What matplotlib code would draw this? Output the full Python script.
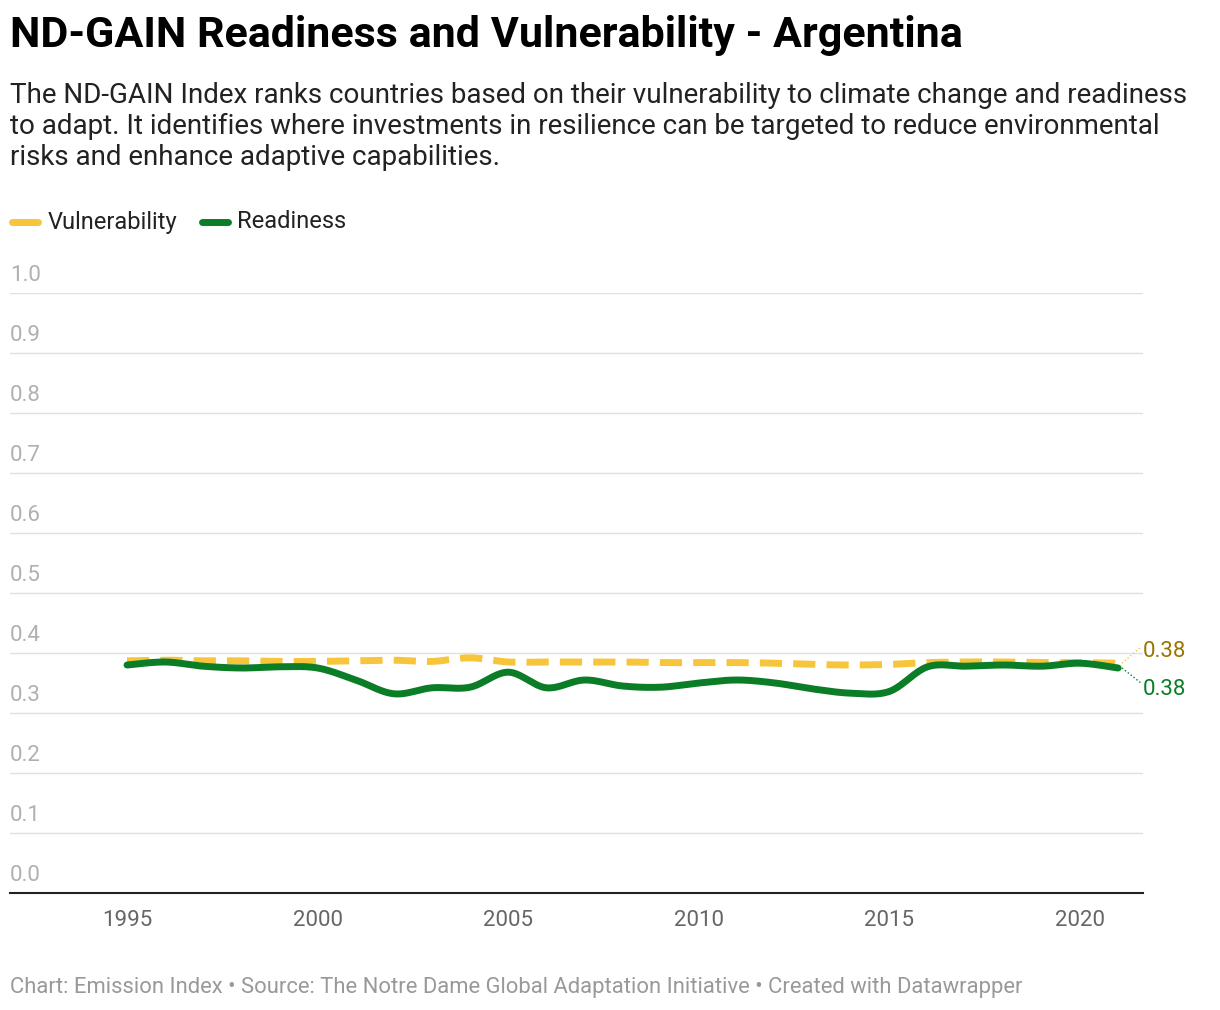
import numpy as np
import matplotlib.pyplot as plt

years = np.arange(1995, 2022)
readiness = [0.380, 0.385, 0.378, 0.375, 0.377, 0.375, 0.355, 0.332, 0.342, 0.343,
             0.368, 0.342, 0.355, 0.345, 0.343, 0.350, 0.355, 0.350, 0.340, 0.333,
             0.336, 0.377, 0.378, 0.380, 0.378, 0.383, 0.375]
vulnerability = [0.387, 0.388, 0.387, 0.387, 0.386, 0.386, 0.387, 0.388, 0.386, 0.392,
                 0.385, 0.385, 0.385, 0.385, 0.384, 0.384, 0.384, 0.383, 0.381, 0.380,
                 0.381, 0.384, 0.385, 0.385, 0.384, 0.384, 0.383]

GREEN = '#0a7d26'
GOLD = '#f7c53c'


def smooth(x, y, n=20):
    # Catmull-Rom rendering of the line (display only)
    x = np.asarray(x, float); y = np.asarray(y, float)
    px = np.r_[x[0], x, x[-1]]; py = np.r_[y[0], y, y[-1]]
    xs, ys = [], []
    t = np.linspace(0, 1, n, endpoint=False)
    for i in range(1, len(px) - 2):
        for p, out in ((px, xs), (py, ys)):
            p0, p1, p2, p3 = p[i - 1], p[i], p[i + 1], p[i + 2]
            out.extend(0.5 * (2 * p1 + (-p0 + p2) * t + (2 * p0 - 5 * p1 + 4 * p2 - p3) * t ** 2
                              + (-p0 + 3 * p1 - 3 * p2 + p3) * t ** 3))
    xs.append(x[-1]); ys.append(y[-1])
    return np.array(xs), np.array(ys)


plt.rcParams['font.family'] = ['Roboto', 'DejaVu Sans']
fig = plt.figure(figsize=(12.2, 10.1), dpi=100)
ax = fig.add_axes([10 / 1220, 1 - 893 / 1010, 1133 / 1220, 600 / 1010])

xv, yv = smooth(years, vulnerability)
xr, yr = smooth(years, readiness)
ax.plot(xv, yv, color=GOLD, lw=5, dashes=(3.2, 1.6), solid_capstyle='round', zorder=3)
ax.plot(xr, yr, color=GREEN, lw=5, solid_capstyle='round', zorder=4)

ax.set_xlim(1991.93, 1991.93 + 1133 / 38.12)
ax.set_ylim(0, 1.0)
ax.set_yticks(np.arange(0, 1.01, 0.1))
ax.set_yticklabels([])
for v in np.arange(0.1, 1.01, 0.1):
    ax.axhline(v, color='#e0e0e0', lw=1, zorder=1)
for v in np.arange(0, 1.01, 0.1):
    ax.text(0, v + 0.012, f'{v:.1f}', transform=ax.get_yaxis_transform(),
            fontsize=16, color='#b0b0b0', va='bottom', ha='left')
ax.tick_params(axis='y', length=0)
ax.set_xticks([1995, 2000, 2005, 2010, 2015, 2020])
ax.tick_params(axis='x', length=0, labelsize=16, labelcolor='#666666', pad=12)
for s in ['top', 'right', 'left']:
    ax.spines[s].set_visible(False)
ax.spines['bottom'].set_color('#222222')
ax.spines['bottom'].set_linewidth(1.5)

# end labels
ax.plot([2021.1, 2021.6], [vulnerability[-1], 0.41], color=GOLD, lw=1, ls=':', clip_on=False)
ax.plot([2021.1, 2021.6], [readiness[-1], 0.35], color=GREEN, lw=1, ls=':', clip_on=False)
ax.text(2021.65, 0.403, f'{vulnerability[-1]:.2f}', color='#9a7400', fontsize=16, va='center')
ax.text(2021.65, 0.339, f'{readiness[-1]:.2f}', color=GREEN, fontsize=16, va='center')

fig.text(10 / 1220, 1 - 36 / 1010, 'ND-GAIN Readiness and Vulnerability - Argentina',
         fontsize=31, fontweight='bold', va='center')
fig.text(10 / 1220, 1 - 82 / 1010,
         'The ND-GAIN Index ranks countries based on their vulnerability to climate change and readiness\n'
         'to adapt. It identifies where investments in resilience can be targeted to reduce environmental\n'
         'risks and enhance adaptive capabilities.',
         fontsize=20, va='top', linespacing=1.2, color='#222222')

# legend
fig.lines.append(plt.Line2D([12 / 1220, 38 / 1220], [1 - 222 / 1010] * 2, transform=fig.transFigure,
                            color=GOLD, lw=5, solid_capstyle='round'))
fig.text(48 / 1220, 1 - 222 / 1010, 'Vulnerability', fontsize=17, va='center', color='#222222')
fig.lines.append(plt.Line2D([202 / 1220, 228 / 1220], [1 - 222 / 1010] * 2, transform=fig.transFigure,
                            color=GREEN, lw=5, solid_capstyle='round'))
fig.text(237 / 1220, 1 - 222 / 1010, 'Readiness', fontsize=17, va='center', color='#222222')

fig.text(10 / 1220, 1 - 987 / 1010,
         'Chart: Emission Index • Source: The Notre Dame Global Adaptation Initiative • Created with Datawrapper',
         fontsize=15.8, color='#999999', va='center')

fig.savefig('out.png', dpi=100)
